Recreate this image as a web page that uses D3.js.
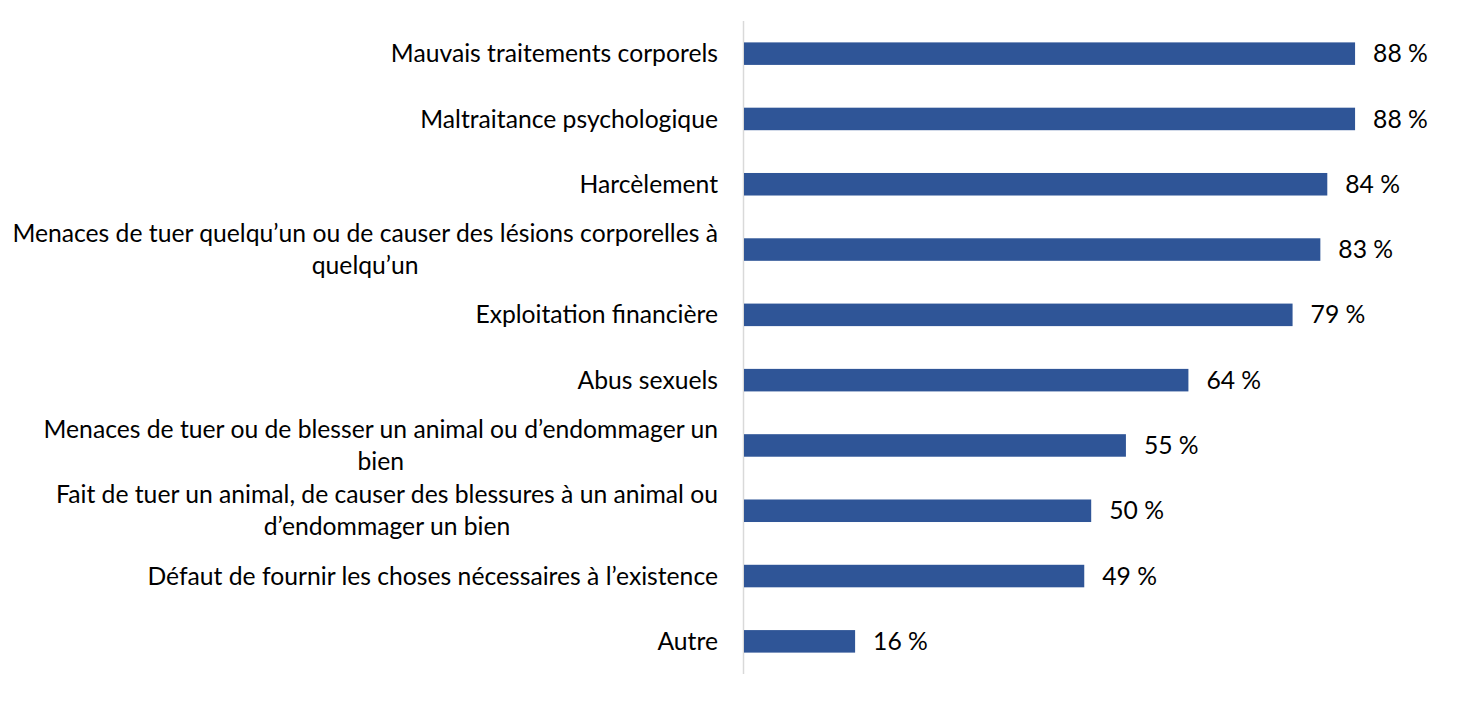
<!DOCTYPE html>
<html>
<head>
<meta charset="utf-8">
<script src="https://cdn.jsdelivr.net/npm/d3@7"></script>
<style>
  body { margin: 0; background: #fff; }
  text { font-family: Lato, "Open Sans", sans-serif; fill: #000; }
</style>
</head>
<body>
<div id="chart-area"></div>
<script>
// data (line breaks as in the original wrapped labels)
const categories = [
    "Mauvais traitements corporels",
    "Maltraitance psychologique",
    "Harcèlement",
    "Menaces de tuer quelqu’un ou de causer des lésions corporelles à\nquelqu’un",
    "Exploitation financière",
    "Abus sexuels",
    "Menaces de tuer ou de blesser un animal ou d’endommager un\nbien",
    "Fait de tuer un animal, de causer des blessures à un animal ou\nd’endommager un bien",
    "Défaut de fournir les choses nécessaires à l’existence",
    "Autre"
];
const values = [88, 88, 84, 83, 79, 64, 55, 50, 49, 16];

// canvas
const canvasWidth = 1465;
const canvasHeight = 704;
const margin = {top: 21, left: 743, bottom: 30, right: 27};
const barColor = "#2F5597";
const fontSize = 24.7;
const lineHeight = 32;

var svg = d3.select("#chart-area")
    .append("svg")
        .attr("width", canvasWidth)
        .attr("height", canvasHeight);

var main = svg.append("g")
    .attr("transform", "translate(" + margin.left + ", " + margin.top + ")");

// scales
var x = d3.scaleLinear()
    .domain([0, 100])
    .range([1, 1 + 694.4]);

var y = d3.scaleBand()
    .domain(categories)
    .range([0, 653])
    .paddingInner(0.655)
    .paddingOuter(0.3275);

// axis line (no ticks)
main.append("line")
    .attr("x1", 0.5).attr("x2", 0.5)
    .attr("y1", 0).attr("y2", 653)
    .attr("stroke", "#D9D9D9")
    .attr("stroke-width", 1.5);

// bars
main.selectAll("rect.bar")
    .data(values)
    .enter()
    .append("rect")
        .attr("class", "bar")
        .attr("x", x(0))
        .attr("y", (d, i) => y(categories[i]))
        .attr("width", d => x(d) - x(0))
        .attr("height", y.bandwidth())
        .attr("fill", barColor);

// value labels
main.selectAll("text.value")
    .data(values)
    .enter()
    .append("text")
        .attr("class", "value")
        .attr("x", d => x(d) + 18)
        .attr("y", (d, i) => y(categories[i]) + y.bandwidth() / 2)
        .attr("dy", "0.35em")
        .attr("font-size", fontSize + "px")
        .text(d => d + " %");

// category labels, right aligned block, lines centered within it
categories.forEach((cat, i) => {
    var lines = cat.split("\n");
    var cy = y(cat) + y.bandwidth() / 2;
    var g = main.append("g").attr("class", "cat-label");
    var texts = lines.map((line, j) =>
        g.append("text")
            .attr("y", cy + (j - (lines.length - 1) / 2) * lineHeight)
            .attr("dy", "0.35em")
            .attr("font-size", fontSize + "px")
            .attr("text-anchor", "middle")
            .text(line)
    );
    var maxW = d3.max(texts, t => t.node().getComputedTextLength());
    texts.forEach(t => t.attr("x", -25 - maxW / 2));
});
</script>
</body>
</html>
